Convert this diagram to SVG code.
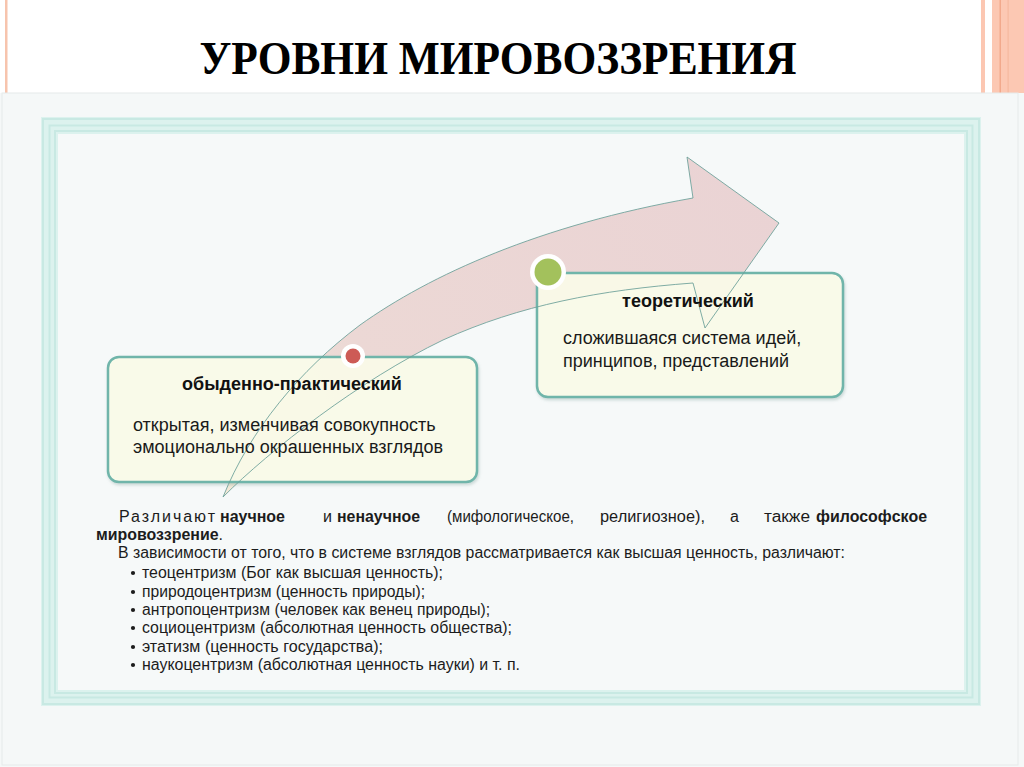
<svg xmlns="http://www.w3.org/2000/svg" width="1024" height="767" viewBox="0 0 1024 767">
  <defs>
    <linearGradient id="arrowFill" x1="223" y1="497" x2="779" y2="200" gradientUnits="userSpaceOnUse">
      <stop offset="0" stop-color="#f3ead8"/>
      <stop offset="0.3" stop-color="#ecd8d5"/>
      <stop offset="1" stop-color="#ead3d4"/>
    </linearGradient>
    <filter id="shadow" x="-5%" y="-5%" width="115%" height="120%">
      <feDropShadow dx="1" dy="2" stdDeviation="1.5" flood-color="#7a9a96" flood-opacity="0.35"/>
    </filter>
  </defs>
  <style>
    .box { fill: #fcfce9; fill-opacity: 0.93; stroke: #6fb5aa; stroke-width: 2.5; }
    .ttl { font-family: "Liberation Sans", Arial, sans-serif; font-weight: bold; font-size: 18px; fill: #111; }
    .bd { font-family: "Liberation Sans", Arial, sans-serif; font-size: 18px; fill: #1a1a1a; }
    .tx { font-family: "Liberation Sans", Arial, sans-serif; font-size: 16px; fill: #1c1c1c; }
    .b { font-weight: bold; }
    .band { stroke: #c8e9e3; stroke-width: 2; fill: none; }
  </style>

  <!-- background -->
  <rect x="0" y="0" width="1024" height="767" fill="#f5f8f8"/>
  <rect x="0" y="0" width="1024" height="93" fill="#ffffff"/>
  <rect x="5" y="0" width="2.5" height="93" fill="#f7c4ad"/>
  <rect x="981" y="0" width="4" height="93" fill="#fcc7b2"/>
  <rect x="992" y="0" width="32" height="93" fill="#fcc8b3"/>
  <rect x="999.5" y="0" width="1.5" height="93" fill="#f2a98c"/>
  <rect x="1007.5" y="0" width="1.2" height="93" fill="#f5b89f"/>
  <rect x="2" y="93" width="1016" height="672" fill="none" stroke="#e6eaea" stroke-width="1"/>

  <!-- title -->
  <text x="498" y="74" text-anchor="middle" font-family="Liberation Serif, 'Times New Roman', serif" font-weight="bold" font-size="46" textLength="597" lengthAdjust="spacingAndGlyphs" fill="#000">УРОВНИ МИРОВОЗЗРЕНИЯ</text>

  <!-- frame -->
  <g id="frame">
    <rect x="41" y="117" width="940" height="589" fill="#dcf2ee"/>
    <rect x="58" y="134" width="906" height="556" fill="#f6f9f9"/>
    <rect x="43" y="119" width="936" height="585" class="band"/>
    <rect x="49.5" y="125.5" width="923" height="572" class="band" stroke-width="1.5"/>
    <rect x="55" y="131" width="912" height="562" class="band" stroke-width="1.5"/>
  </g>

  <!-- connector (arrow) -->
  <g id="connectors">
    <path id="arrow" d="M223,497 C250,430 300,370 360,325 C430,275 540,225 693,198 L687,157 L779,223 L705,328 L693,283 C600,290 520,305 443,340 C360,380 270,450 223,497 Z" fill="url(#arrowFill)" stroke="none"/>
  </g>

  <!-- node 1 -->
  <g id="node-ordinary">
    <rect x="108" y="357" width="369" height="125" rx="11" class="box" filter="url(#shadow)"/>
  </g>

  <!-- node 2 -->
  <g id="node-theoretical">
    <rect x="537" y="273" width="306" height="124" rx="11" class="box" filter="url(#shadow)"/>
  </g>

  <!-- arrow outline over boxes -->
  <path d="M223,497 C250,430 300,370 360,325 C430,275 540,225 693,198 L687,157 L779,223 L705,328 L693,283 C600,290 520,305 443,340 C360,380 270,450 223,497 Z" fill="none" stroke="#6a9f98" stroke-width="1" stroke-opacity="0.85"/>

  <g id="node-ordinary-text">
    <circle cx="353" cy="356" r="12" fill="#ffffff"/>
    <circle cx="353" cy="356" r="7.5" fill="#cd5b56"/>
    <text x="292" y="390" text-anchor="middle" class="ttl">обыденно-практический</text>
    <text x="133" y="431" class="bd">открытая, изменчивая совокупность</text>
    <text x="133" y="453" class="bd">эмоционально окрашенных взглядов</text>
  </g>

  <g id="node-theoretical-text">
    <circle cx="548" cy="272" r="18" fill="#ffffff"/>
    <circle cx="548" cy="272" r="13.5" fill="#a3c15c"/>
    <text x="688" y="307" text-anchor="middle" class="ttl">теоретический</text>
    <text x="563" y="344" class="bd">сложившаяся система идей,</text>
    <text x="563" y="367" class="bd">принципов, представлений</text>
  </g>

  <!-- bottom text -->
  <g id="description">
    <text x="119" y="522" class="tx" textLength="96" lengthAdjust="spacing">Различают</text>
    <text x="220" y="522" class="tx b" textLength="65" lengthAdjust="spacingAndGlyphs">научное</text>
    <text x="323" y="522" class="tx">и</text>
    <text x="337" y="522" class="tx b" textLength="83" lengthAdjust="spacingAndGlyphs">ненаучное</text>
    <text x="447" y="522" class="tx" textLength="127" lengthAdjust="spacingAndGlyphs">(мифологическое,</text>
    <text x="600" y="522" class="tx" textLength="105" lengthAdjust="spacingAndGlyphs">религиозное),</text>
    <text x="730" y="522" class="tx">а</text>
    <text x="764" y="522" class="tx" textLength="46" lengthAdjust="spacingAndGlyphs">также</text>
    <text x="816" y="522" class="tx b" textLength="111" lengthAdjust="spacingAndGlyphs">философское</text>
    <text x="96" y="540" class="tx" textLength="127" lengthAdjust="spacingAndGlyphs"><tspan class="b">мировоззрение</tspan>.</text>
    <text x="118" y="558" class="tx" textLength="727" lengthAdjust="spacingAndGlyphs">В зависимости от того, что в системе взглядов рассматривается как высшая ценность, различают:</text>
    <g fill="#1c1c1c">
      <circle cx="133" cy="573" r="2.1"/>
      <circle cx="133" cy="592" r="2.1"/>
      <circle cx="133" cy="610" r="2.1"/>
      <circle cx="133" cy="628" r="2.1"/>
      <circle cx="133" cy="647" r="2.1"/>
      <circle cx="133" cy="665" r="2.1"/>
    </g>
    <text x="142" y="578" class="tx" textLength="301" lengthAdjust="spacingAndGlyphs">теоцентризм (Бог как высшая ценность);</text>
    <text x="142" y="597" class="tx" textLength="283" lengthAdjust="spacingAndGlyphs">природоцентризм (ценность природы);</text>
    <text x="142" y="615" class="tx" textLength="348" lengthAdjust="spacingAndGlyphs">антропоцентризм (человек как венец природы);</text>
    <text x="142" y="633" class="tx" textLength="370" lengthAdjust="spacingAndGlyphs">социоцентризм (абсолютная ценность общества);</text>
    <text x="142" y="652" class="tx" textLength="241" lengthAdjust="spacingAndGlyphs">этатизм (ценность государства);</text>
    <text x="142" y="670" class="tx" textLength="378" lengthAdjust="spacingAndGlyphs">наукоцентризм (абсолютная ценность науки) и т. п.</text>
  </g>
</svg>
